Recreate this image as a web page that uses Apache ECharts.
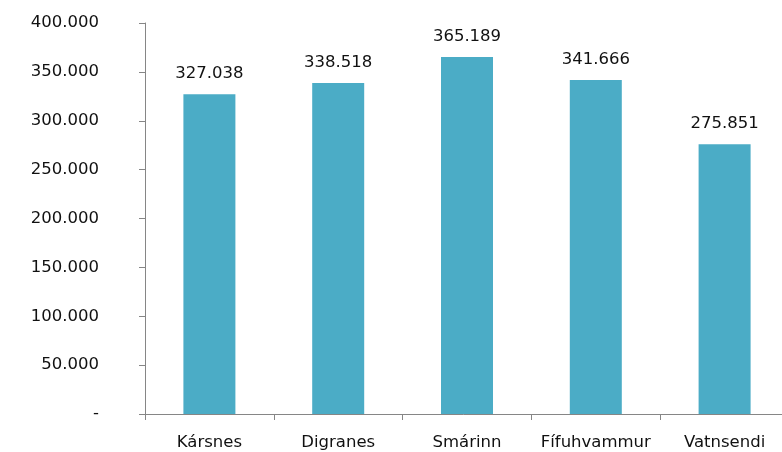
<!DOCTYPE html>
<html>
<head>
<meta charset="utf-8">
<script src="https://cdn.jsdelivr.net/npm/echarts@6/dist/echarts.min.js"></script>
<style>html,body{margin:0;padding:0;background:#fff}#c{width:782px;height:452px}</style>
</head>
<body>
<div id="c"></div>
<script>
const categories = ['Kársnes', 'Digranes', 'Smárinn', 'Fífuhvammur', 'Vatnsendi'];
const values = [327038, 338518, 365189, 341666, 275851];
const yTicks = { min: 0, max: 400000, interval: 50000 };

function fmt(v) {
  if (v === 0) return '-';
  return String(Math.round(v)).replace(/\B(?=(\d{3})+(?!\d))/g, '.');
}

const FONT = 'DejaVu Sans';
const FS = 16.5;
const chart = echarts.init(document.getElementById('c'), null, { renderer: 'canvas' });
chart.setOption({
  animation: false,
  backgroundColor: '#ffffff',
  grid: { left: 145, top: 23, width: 644, height: 391, containLabel: false, outerBoundsMode: 'none' },
  xAxis: {
    type: 'category',
    data: categories,
    axisLine: { lineStyle: { color: '#868686', width: 1 } },
    axisTick: { show: true, length: 6, interval: 0, lineStyle: { color: '#868686' } },
    axisLabel: { color: '#111', fontFamily: FONT, fontSize: FS, margin: 20, interval: 0 }
  },
  yAxis: {
    type: 'value',
    min: yTicks.min, max: yTicks.max, interval: yTicks.interval,
    axisLine: { show: true, lineStyle: { color: '#868686', width: 1 } },
    axisTick: { show: true, length: 6, lineStyle: { color: '#868686' } },
    splitLine: { show: false },
    axisLabel: { color: '#111', fontFamily: FONT, fontSize: FS, margin: 46, formatter: fmt }
  },
  series: [{
    type: 'bar',
    data: values,
    barWidth: 52,
    itemStyle: { color: '#4BACC6' },
    label: { show: true, position: 'top', distance: 12, color: '#111', fontFamily: FONT, fontSize: FS, formatter: p => fmt(p.value) }
  }]
});
</script>
</body>
</html>
